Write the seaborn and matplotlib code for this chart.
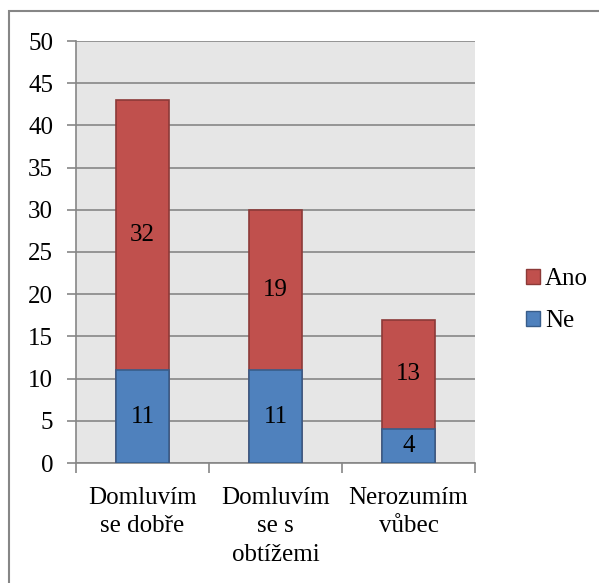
import matplotlib
matplotlib.use("Agg")
import matplotlib.pyplot as plt
from matplotlib import font_manager as fm
import seaborn as sns
import pandas as pd
from matplotlib.patches import Rectangle, Patch

categories = ["Domluvím\nse dobře", "Domluvím\nse s\nobtížemi", "Nerozumím\nvůbec"]
ne_values = [11, 11, 4]
ano_values = [32, 19, 13]
y_ticks = [0, 5, 10, 15, 20, 25, 30, 35, 40, 45, 50]

sns.set_theme(style="white")

names = sorted({f.name for f in fm.fontManager.ttflist})
serif = None
for cand in ["Liberation Serif", "Times New Roman", "Tinos", "Nimbus Roman", "TeX Gyre Termes"]:
    if cand in names:
        serif = cand
        break
fams = [serif, 'DejaVu Serif'] if serif else ['DejaVu Serif']
plt.rcParams['font.family'] = fams
plt.rcParams['text.color'] = 'black'
plt.rcParams['xtick.labelcolor'] = 'black'
plt.rcParams['ytick.labelcolor'] = 'black'

FS = 18

df = pd.DataFrame({"cat": categories, "Ne": ne_values, "Ano": ano_values})
df["Total"] = df["Ne"] + df["Ano"]

RED, RED_E = "#C0504D", "#8C3A38"
BLUE, BLUE_E = "#4F81BD", "#385D8A"
GRID = "#868686"

fig = plt.figure(figsize=(5.99, 5.83), dpi=100)
ax = fig.add_axes([76/599, 1-463/583, (475-76)/599, (463-41)/583])
ax.set_facecolor("#E6E6E6")

sns.barplot(data=df, x="cat", y="Total", color=RED, edgecolor=RED_E, linewidth=1.2,
            width=0.4, ax=ax, saturation=1, zorder=3)
sns.barplot(data=df, x="cat", y="Ne", color=BLUE, edgecolor=BLUE_E, linewidth=1.2,
            width=0.4, ax=ax, saturation=1, zorder=3)

for i, (n, a) in enumerate(zip(ne_values, ano_values)):
    ax.text(i, n/2, str(n), ha="center", va="center", fontsize=FS, color="black", zorder=5)
    ax.text(i, n + a/2, str(a), ha="center", va="center", fontsize=FS, color="black", zorder=5)

ax.set_ylim(0, 50)
ax.set_xlim(-0.5, 2.5)
ax.set_yticks(y_ticks)
ax.set_yticklabels([str(t) for t in y_ticks], fontsize=FS, color="black")
ax.yaxis.grid(True, color=GRID, linewidth=1.2, zorder=0)
ax.set_axisbelow(True)
ax.tick_params(axis="y", length=6.5, width=1.2, color=GRID, left=True, pad=10)
ax.set_xticks([0, 1, 2])
ax.set_xticklabels(categories, fontsize=FS, linespacing=1.4, color="black")
ax.tick_params(axis="x", which="major", length=0, pad=17)
ax.set_xticks([-0.5, 0.5, 1.5, 2.5], minor=True)
ax.tick_params(axis="x", which="minor", length=7, width=1.2, color=GRID, bottom=True)
ax.set_xlabel("")
ax.set_ylabel("")
for s in ["top", "right"]:
    ax.spines[s].set_visible(False)
for s in ["left", "bottom"]:
    ax.spines[s].set_color(GRID)
    ax.spines[s].set_linewidth(1.2)

handles = [Patch(facecolor=RED, edgecolor=RED_E, label="Ano"),
           Patch(facecolor=BLUE, edgecolor=BLUE_E, label="Ne")]
leg = fig.legend(handles=handles, loc="center left", bbox_to_anchor=(516/599, 1-300/583),
                 frameon=False, fontsize=FS, handlelength=0.55, handleheight=0.55,
                 handletextpad=0.2, labelspacing=0.8, borderaxespad=0)
for t in leg.get_texts():
    t.set_color("black")

fig.patches.append(Rectangle((9/599, -0.1), 1.2, 1 - 11/583 + 0.1, transform=fig.transFigure,
                             fill=False, edgecolor=GRID, linewidth=1.5))

fig.savefig("out.png", dpi=100)
